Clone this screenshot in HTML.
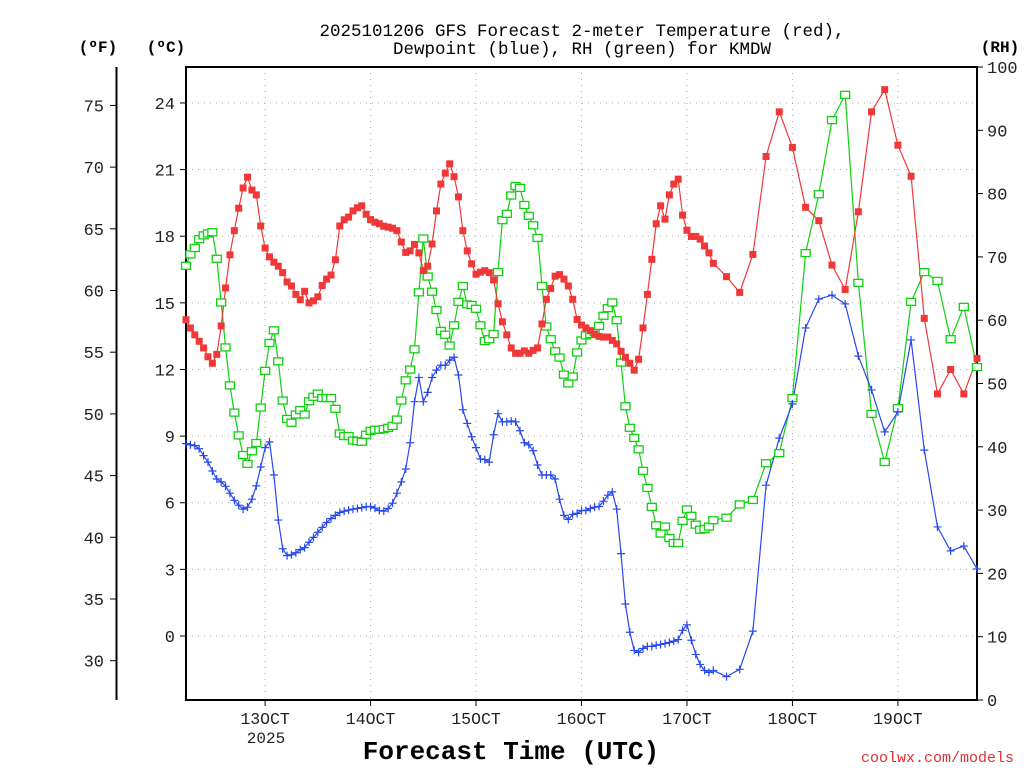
<!DOCTYPE html>
<html><head><meta charset="utf-8"><style>
body{margin:0;background:#fff;}
svg text{font-family:"Liberation Mono",monospace;}
</style></head><body>
<svg id="chart" width="1024" height="768" xmlns="http://www.w3.org/2000/svg">
<g id="grid"></g>
<g id="axes"></g>
<g id="series"></g>
<text x="582" y="36" text-anchor="middle" font-size="17.5" fill="#000">2025101206 GFS Forecast 2-meter Temperature (red),</text>
<text x="582" y="54" text-anchor="middle" font-size="17.5" fill="#000">Dewpoint (blue), RH (green) for KMDW</text>
<text x="98" y="52" text-anchor="middle" font-size="16" font-weight="bold">(ºF)</text>
<text x="166" y="52" text-anchor="middle" font-size="16" font-weight="bold">(ºC)</text>
<text x="1000" y="52" text-anchor="middle" font-size="16" font-weight="bold">(RH)</text>
<text x="511" y="759" text-anchor="middle" font-size="26" font-weight="bold">Forecast Time (UTC)</text>
<text x="1014" y="762" text-anchor="end" font-size="15" fill="#e03030">coolwx.com/models</text>
<text x="266" y="743" text-anchor="middle" font-size="16" fill="#222">2025</text>
</svg>
<script>
const dayLabels=["13OCT","14OCT","15OCT","16OCT","17OCT","18OCT","19OCT"];
const dayHours=[18,42,66,90,114,138,162];
const cTicks=[0,3,6,9,12,15,18,21,24];
const fTicks=[30,35,40,45,50,55,60,65,70,75];
const rhTicks=[0,10,20,30,40,50,60,70,80,90,100];
const hours=[];
for(let h=0;h<=120;h++)hours.push(h);
for(let h=123;h<=180;h+=3)hours.push(h);
const tempC=[14.24,13.87,13.56,13.27,12.97,12.57,12.28,12.68,13.96,15.67,17.16,18.25,19.26,20.17,20.66,20.08,19.86,18.46,17.47,17.07,16.83,16.65,16.36,15.94,15.76,15.38,15.14,15.52,15.0,15.09,15.27,15.78,16.07,16.25,16.94,18.46,18.74,18.86,19.14,19.28,19.37,18.99,18.75,18.63,18.56,18.45,
18.41,18.36,18.25,17.74,17.27,17.34,17.63,17.25,16.45,16.65,17.65,19.14,20.35,20.84,21.26,20.68,19.77,18.25,17.34,16.76,16.29,16.38,16.45,16.36,16.03,14.96,14.15,13.56,12.97,12.73,12.73,12.84,12.73,12.86,12.97,14.05,15.16,15.65,16.2,16.27,16.07,15.76,15.16,14.25,
14.0,13.87,13.75,13.6,13.49,13.46,13.46,13.31,13.15,12.82,12.55,12.28,11.97,12.46,13.87,15.38,16.96,18.56,19.37,18.77,19.86,20.35,20.57,18.95,18.27,17.99,17.99,17.87,17.56,17.25,16.78,
16.18,15.47,17.18,21.59,23.6,22.0,19.3,18.7,16.7,15.6,19.1,23.6,24.6,22.1,20.7,14.3,10.9,12.0,10.9,12.5];
const dewC=[8.66,8.61,8.57,8.43,8.12,7.83,7.43,7.07,6.94,6.74,6.43,6.11,5.89,5.71,5.80,6.16,6.76,7.61,8.48,8.74,7.25,5.22,3.93,3.62,3.66,3.75,3.89,3.98,4.22,4.44,4.67,4.89,5.11,5.29,5.43,5.56,5.62,5.67,5.71,5.74,5.78,5.82,5.83,5.76,5.65,
5.62,5.74,5.98,6.43,6.94,7.52,8.70,10.55,11.64,10.55,10.97,11.64,11.97,12.19,12.19,12.42,12.55,11.75,10.19,9.57,8.97,8.48,7.97,7.94,7.83,9.06,10.01,9.64,9.64,9.68,9.64,9.24,8.70,8.61,8.34,7.70,7.25,7.25,7.25,7.07,6.16,5.43,5.25,5.47,
5.52,5.65,5.65,5.74,5.80,5.83,6.07,6.34,6.49,5.71,3.71,1.44,0.17,-0.65,-0.74,-0.56,-0.47,-0.47,-0.41,-0.38,-0.34,-0.29,-0.23,-0.16,0.26,0.50,-0.19,-0.83,-1.28,-1.55,-1.64,-1.55,
-1.83,-1.50,0.22,6.79,8.91,10.45,13.87,15.17,15.35,14.95,12.6,11.08,9.19,10.09,13.33,8.37,4.91,3.83,4.05,3.02];
const rhPct=[68.6,70.4,71.4,72.8,73.4,73.7,73.9,69.7,62.8,55.7,49.7,45.4,41.8,38.7,37.3,39.3,40.6,46.2,52.0,56.4,58.4,53.5,47.3,44.4,43.8,45.1,45.8,45.1,47.2,47.9,48.4,47.7,47.7,47.7,46.0,42.1,41.7,41.7,41.0,40.9,40.8,41.9,42.5,42.7,42.7,42.8,
43.0,43.3,44.3,47.3,50.5,52.2,55.4,64.4,72.9,66.9,64.5,61.6,58.3,57.7,56.0,59.2,62.9,65.4,62.5,62.4,61.8,59.2,56.7,57.0,57.8,67.6,75.8,76.8,79.7,81.2,80.9,78.2,76.5,75.0,73.0,65.4,59.0,57.0,55.1,54.1,51.4,50.0,51.1,54.9,
56.8,57.6,57.8,58.1,59.1,60.7,61.9,62.8,60.0,53.3,46.4,43.0,41.4,39.6,36.2,33.5,30.5,27.6,26.3,27.4,25.6,24.8,24.8,28.3,30.1,29.1,27.7,26.9,27.0,27.4,28.4,
28.8,30.9,31.6,37.4,39.0,47.7,70.6,79.9,91.6,95.6,65.9,45.2,37.6,46.1,62.9,67.6,66.2,57.0,62.1,52.6];

const X0=186,X1=977,Y0=67,Y1=700;
const xs=h=>X0+h*(X1-X0)/180;
const yc=c=>636-c*22.21;
const yf=f=>yc((f-32)*5/9);
const yr=r=>Y1-r*(Y1-Y0)/100;
const NS="http://www.w3.org/2000/svg";
function mk(parent,tag,attrs){const e=document.createElementNS(NS,tag);for(const k in attrs)e.setAttribute(k,attrs[k]);parent.appendChild(e);return e;}
const grid=document.getElementById('grid'),axes=document.getElementById('axes'),ser=document.getElementById('series');

cTicks.forEach(c=>{
  const g=mk(grid,'line',{x1:X0,x2:X1,y1:yc(c),y2:yc(c),stroke:'#aaa','stroke-dasharray':'1,5'});
  
  
  const t=mk(axes,'line',{x1:X0-6,x2:X0,y1:yc(c),y2:yc(c),stroke:'#000'});
  
  
  const l=mk(axes,'text',{x:X0-11,y:yc(c)+6,'text-anchor':'end','font-size':17,fill:'#222'});
  l.textContent=c;
  
  
});
dayHours.forEach((h,i)=>{
  const g=mk(grid,'line',{x1:xs(h),x2:xs(h),y1:Y0,y2:Y1,stroke:'#aaa','stroke-dasharray':'1,5'});
  
  
  const t=mk(axes,'line',{x1:xs(h),x2:xs(h),y1:Y1,y2:Y1+6,stroke:'#000'});
  
  
  const l=mk(axes,'text',{x:xs(h),y:724,'text-anchor':'middle','font-size':16.5,fill:'#222'});
  l.textContent=dayLabels[i];
  
  
});
fTicks.forEach(f=>{
  const t=mk(axes,'line',{x1:110,x2:116,y1:yf(f),y2:yf(f),stroke:'#000'});
  
  
  const l=mk(axes,'text',{x:104,y:yf(f)+6,'text-anchor':'end','font-size':17,fill:'#222'});
  l.textContent=f;
  
  
});
rhTicks.forEach(r=>{
  const t=mk(axes,'line',{x1:X1,x2:X1+6,y1:yr(r),y2:yr(r),stroke:'#000'});
  
  
  const l=mk(axes,'text',{x:X1+10,y:yr(r)+6,'text-anchor':'start','font-size':17,fill:'#222'});
  l.textContent=r;
  
  
});
const fl=mk(axes,'line',{x1:116.5,x2:116.5,y1:Y0,y2:Y1,stroke:'#000','stroke-width':2});


const box=mk(axes,'rect',{x:X0,y:Y0,width:X1-X0,height:Y1-Y0,fill:'none',stroke:'#000','stroke-width':2});



function lineOf(vals,yf2,color,name){
  const d=vals.map((v,i)=>(i?'L':'M')+xs(hours[i]).toFixed(1)+','+yf2(v).toFixed(1)).join('');
  const p=mk(ser,'path',{d:d,fill:'none',stroke:color,'stroke-width':1.2});
  
  
}
lineOf(rhPct,yr,'#10d010','rh-line');
lineOf(dewC,yc,'#2848f0','dewpoint-line');
lineOf(tempC,yc,'#f03838','temperature-line');
rhPct.forEach((v,i)=>{
  const r=mk(ser,'rect',{x:xs(hours[i])-4.5,y:yr(v)-3.5,width:9,height:7,fill:'#fff',stroke:'#10d010','stroke-width':1.3});
  
  
});
dewC.forEach((v,i)=>{
  const x=xs(hours[i]),y=yc(v);
  const p=mk(ser,'path',{d:`M${x-4},${y}H${x+4}M${x},${y-4}V${y+4}`,stroke:'#2848f0','stroke-width':1.2});
  
  
});
tempC.forEach((v,i)=>{
  const r=mk(ser,'rect',{x:xs(hours[i])-3.5,y:yc(v)-3.5,width:7,height:7,fill:'#f03838'});
  
  
});
</script>
</body></html>
